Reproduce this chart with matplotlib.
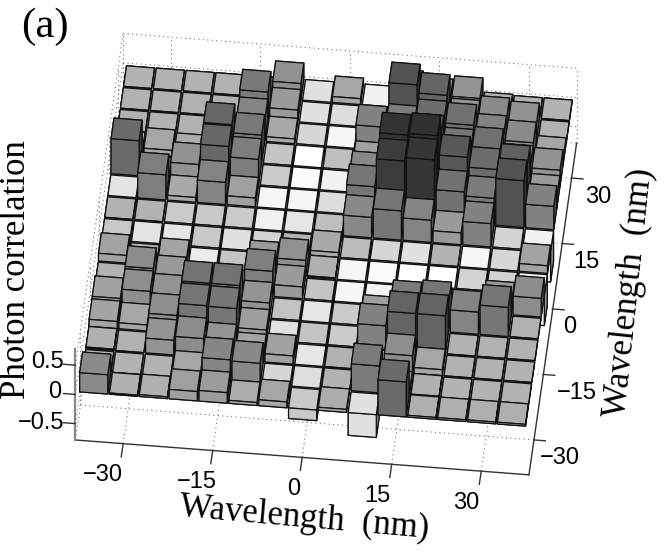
import matplotlib
matplotlib.use('Agg')
import matplotlib.pyplot as plt
from matplotlib.colors import Normalize
import numpy as np

W, H = 664, 556

# wavelength of each bar, along both floor axes
wavelengths = [-35, -30, -25, -20, -15, -10, -5, 0, 5, 10, 15, 20, 25, 30, 35]
ticks = [-30, -15, 0, 15, 30]
z_ticks = [-0.5, 0, 0.5]

# correlation, one list per x wavelength, from y = -35 (front) to y = 35 (back)
col_m35 = [.33, 0, .02, .12, .14, 0, .13, -.18, 0, -.4, .6, .02, 0, 0, 0]
col_m30 = [.02, 0, 0, .1, .3, .32, 0, -.4, 0, .43, 0, .1, 0, 0, 0]
col_m25 = [.03, 0, .25, .3, .26, .2, .12, -.43, -.2, .08, .27, .05, 0, 0, 0]
col_m20 = [.16, .1, .32, .51, .52, 0, -.48, -.18, -.18, .38, .62, .62, 0, 0, 0]
col_m15 = [.18, .37, .25, .5, .52, .05, -.15, -.39, -.2, .15, .44, .48, .37, .47, 0]
col_m10 = [.05, .35, .12, .17, .26, .43, .2, -.27, -.52, -.56, -.2, -.15, .08, .2, .28]
col_m05 = [.1, -.3, .14, -.39, -.14, .2, .28, 0, -.43, -.56, -.6, -.64, -.3, -.39, -.39]
col_p00 = [-.18, -.36, -.43, -.14, -.43, -.14, .02, .08, -.1, -.35, -.52, -.1, -.56, -.35, .1]
col_p05 = [.05, 0, 0, -.2, -.2, -.56, -.56, -.08, .35, .5, .35, .15, .4, 0, -.52]
col_p10 = [-.39, .46, -.1, .4, .17, -.55, -.6, -.3, .5, .98, 1.05, .5, .45, .79, .3]
col_p15 = [.6, .05, .3, .65, .46, -.3, -.64, -.39, .38, 1.04, 1.08, .7, .57, .65, .2]
col_p20 = [.03, .02, .1, .65, .5, -.3, -.64, 0, .2, .53, .75, .5, .55, .25, .26]
col_p25 = [.03, 0, 0, 0, .38, 0, -.27, -.56, .4, .46, .58, .55, .4, .33, .02]
col_p30 = [.03, 0, 0, 0, .5, .2, -.27, -.3, -.27, .8, .67, .3, .33, .28, 0]
col_p35 = [.03, 0, 0, 0, 0, .32, -.52, .13, -.52, .4, .2, .27, .1, 0, 0]

heights = np.array([col_m35, col_m30, col_m25, col_m20, col_m15,
                    col_m10, col_m05, col_p00, col_p05, col_p10,
                    col_p15, col_p20, col_p25, col_p30, col_p35])

LIM = 38
ZMIN, ZMAX = -0.78, 0.78
WALL = 0.5
BAR = 4.7

fig = plt.figure(figsize=(W / 100, H / 100), dpi=100)
ax = fig.add_axes([40.5 / W, 24.5 / H, 556 / W, 556 / H], projection='3d',
                  proj_type='ortho', computed_zorder=False)
ax.view_init(elev=47, azim=-84)
ax.set_axis_off()

# dotted grid on floor and the two walls
grid = dict(color='#777777', lw=0.8, ls=(0, (1, 3)), zorder=1)
for t in ticks:
    ax.plot([t, t], [-LIM, LIM], [ZMIN, ZMIN], **grid)
    ax.plot([-LIM, LIM], [t, t], [ZMIN, ZMIN], **grid)
    ax.plot([t, t], [LIM, LIM], [ZMIN, WALL], **grid)
    ax.plot([-LIM, -LIM], [t, t], [ZMIN, WALL], **grid)
for z in z_ticks:
    ax.plot([-LIM, LIM], [LIM, LIM], [z, z], **grid)
    ax.plot([-LIM, -LIM], [-LIM, LIM], [z, z], **grid)
ax.plot([-LIM, -LIM], [LIM, LIM], [ZMIN, WALL], **grid)
ax.plot([LIM, LIM], [LIM, LIM], [ZMIN, WALL], **grid)
ax.plot([-LIM, -LIM], [-LIM, LIM], [ZMIN, ZMIN], **grid)
ax.plot([-LIM, LIM], [LIM, LIM], [ZMIN, ZMIN], **grid)

# solid box edges and ticks
solid = dict(color='#333333', lw=1.0, zorder=2)
ax.plot([-LIM, LIM], [-LIM, -LIM], [ZMIN, ZMIN], **solid)
ax.plot([LIM, LIM], [-LIM, LIM], [ZMIN, ZMIN], **solid)
ax.plot([-LIM, -LIM], [-LIM, -LIM], [ZMIN, ZMAX], color='#888888', lw=1.6, zorder=2)
for t in ticks:
    ax.plot([t, t], [-LIM, -LIM - 3], [ZMIN, ZMIN], **solid)
    ax.plot([LIM, LIM + 1.9], [t, t], [ZMIN, ZMIN], **solid)
for z in z_ticks:
    ax.plot([-LIM, -LIM - 2], [-LIM, -LIM], [z, z], **solid)

# bars, painted from the back row to the front
norm = Normalize(-0.64, 1.48)
order = 3
for j in range(len(wavelengths) - 1, -1, -1):
    for i in range(len(wavelengths)):
        h = heights[i, j]
        g = np.array(plt.cm.gray_r(norm(h)))
        side = g * [0.6, 0.6, 0.6, 1]
        faces = [g, g, g, g, g, side]
        ax.bar3d(wavelengths[i] - BAR / 2, wavelengths[j] - BAR / 2, 0, BAR, BAR, h,
                 color=faces, edgecolor='#111111', linewidth=0.9, shade=False, zorder=order)
        order += 1

ax.set_xlim(-LIM, LIM)
ax.set_ylim(-LIM, LIM)
ax.set_zlim(ZMIN, ZMAX)
ax.set_box_aspect((1.471, 1.471, 0.431), zoom=1.15)


def label(x, y, s, **kw):
    fig.text(x / W, 1 - y / H, s, ha='center', va='center', **kw)


num = dict(family='Liberation Sans', fontsize=17)
ser = dict(family='Liberation Serif', fontsize=25)

for x, y, s in zip([103, 197, 294, 377, 466], [475, 482, 489, 496, 503],
                   ['\u221230', '\u221215', '0', '15', '30']):
    label(x, y, s, **num)
for x, y, s in zip([560, 577, 570, 586, 598], [458, 393, 327, 262, 197],
                   ['\u221230', '\u221215', '0', '15', '30']):
    label(x, y, s, **num)
for x, y, s in zip([41, 55, 48], [423, 392, 362], ['\u22120.5', '0', '0.5']):
    label(x, y, s, **num)

label(45, 27, '(a)', family='Liberation Serif', fontsize=31)
label(17, 270, 'Photon correlation', rotation=90, **ser)
label(304, 518, 'Wavelength  (nm)', rotation=-5, **ser)
label(630, 293, 'Wavelength  (nm)', rotation=84, **ser)

fig.savefig('out.png', dpi=100)
